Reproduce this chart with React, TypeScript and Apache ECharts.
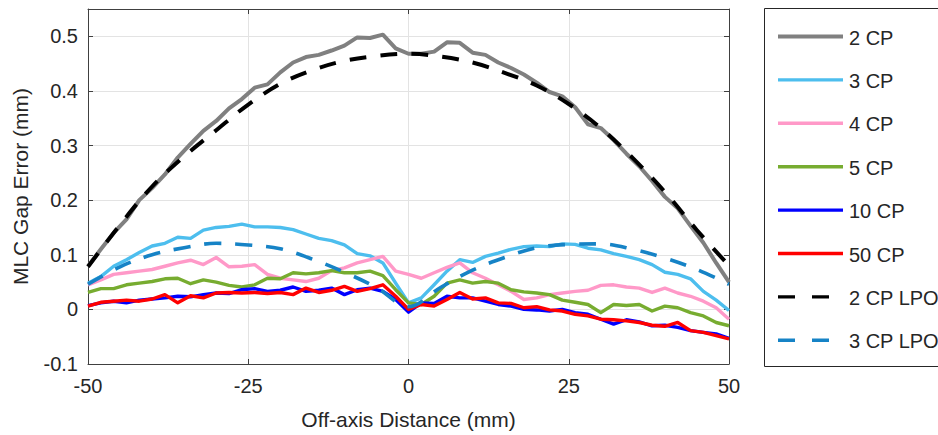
import React, { useEffect, useRef } from "react";
import * as echarts from "echarts";

// Off-axis distance (mm), sampled every 2 mm
const xs = [
  -50, -48, -46, -44, -42, -40, -38, -36, -34, -32, -30, -28, -26, -24, -22, -20, -18,
  -16, -14, -12, -10, -8, -6, -4, -2, 0, 2, 4, 6, 8, 10, 12, 14, 16, 18, 20, 22, 24,
  26, 28, 30, 32, 34, 36, 38, 40, 42, 44, 46, 48, 50,
];

const cp2 = [
  0.079, 0.11, 0.14, 0.165, 0.2, 0.222, 0.247, 0.278, 0.303, 0.327, 0.345, 0.368, 0.385,
  0.406, 0.412, 0.434, 0.452, 0.462, 0.466, 0.474, 0.483, 0.498, 0.497, 0.503, 0.478,
  0.468, 0.468, 0.472, 0.489, 0.488, 0.47, 0.466, 0.452, 0.442, 0.43, 0.415, 0.398, 0.39,
  0.37, 0.339, 0.332, 0.31, 0.285, 0.262, 0.235, 0.206, 0.185, 0.153, 0.122, 0.085, 0.05,
];

const cp3 = [
  0.048, 0.06, 0.079, 0.091, 0.104, 0.116, 0.121, 0.132, 0.13, 0.145, 0.15, 0.152, 0.156,
  0.151, 0.151, 0.15, 0.146, 0.138, 0.13, 0.126, 0.118, 0.102, 0.098, 0.085, 0.048,
  0.012, 0.021, 0.045, 0.07, 0.091, 0.086, 0.097, 0.103, 0.11, 0.115, 0.116, 0.115, 0.12,
  0.119, 0.112, 0.109, 0.102, 0.097, 0.091, 0.082, 0.068, 0.064, 0.056, 0.033, 0.017, -0.002,
];

const cp4 = [
  0.045, 0.054, 0.064, 0.067, 0.07, 0.073, 0.079, 0.085, 0.09, 0.082, 0.095, 0.078, 0.079,
  0.082, 0.064, 0.057, 0.054, 0.051, 0.057, 0.071, 0.076, 0.085, 0.091, 0.097, 0.07,
  0.064, 0.057, 0.067, 0.077, 0.085, 0.067, 0.057, 0.045, 0.033, 0.018, 0.021, 0.027, 0.03,
  0.033, 0.035, 0.044, 0.045, 0.041, 0.039, 0.031, 0.039, 0.03, 0.024, 0.015, 0.003, -0.018,
];

const cp5 = [
  0.031, 0.038, 0.038, 0.045, 0.048, 0.051, 0.056, 0.057, 0.047, 0.054, 0.05, 0.044, 0.041,
  0.045, 0.057, 0.056, 0.067, 0.065, 0.067, 0.071, 0.067, 0.067, 0.07, 0.062, 0.036,
  0.012, 0.009, 0.024, 0.048, 0.054, 0.048, 0.051, 0.048, 0.036, 0.032, 0.03, 0.027, 0.017,
  0.013, 0.009, -0.006, 0.009, 0.007, 0.009, -0.003, 0.006, 0.003, -0.006, -0.012, -0.024, -0.03,
];

const cp10 = [
  0.007, 0.012, 0.015, 0.012, 0.017, 0.019, 0.021, 0.024, 0.023, 0.027, 0.03, 0.029, 0.036,
  0.038, 0.033, 0.035, 0.041, 0.033, 0.035, 0.039, 0.027, 0.036, 0.039, 0.033, 0.018,
  -0.005, 0.012, 0.011, 0.024, 0.021, 0.021, 0.015, 0.009, 0.006, 0.0, -0.001, -0.003, 0.0,
  -0.006, -0.009, -0.018, -0.027, -0.019, -0.023, -0.03, -0.029, -0.033, -0.039, -0.042, -0.045, -0.053,
];

const cp50 = [
  0.006, 0.013, 0.015, 0.017, 0.015, 0.019, 0.027, 0.012, 0.025, 0.021, 0.03, 0.031, 0.03,
  0.031, 0.029, 0.031, 0.027, 0.039, 0.031, 0.035, 0.042, 0.033, 0.038, 0.045, 0.024,
  0.0, 0.009, 0.006, 0.018, 0.031, 0.019, 0.021, 0.012, 0.011, 0.003, 0.005, -0.001, -0.003,
  -0.009, -0.012, -0.018, -0.019, -0.021, -0.024, -0.029, -0.031, -0.024, -0.039, -0.042, -0.048, -0.054,
];

// LPO fits, sampled every 5 mm
const xsLpo = [-50, -45, -40, -35, -30, -25, -20, -15, -10, -5, 0, 5, 10, 15, 20, 25, 30, 35, 40, 45, 50];
const cp2Lpo = [
  0.078, 0.155, 0.225, 0.28, 0.328, 0.375, 0.413, 0.438, 0.455, 0.464, 0.468, 0.463, 0.452,
  0.433, 0.41, 0.376, 0.332, 0.277, 0.215, 0.145, 0.08,
];
const cp3Lpo = [
  0.046, 0.078, 0.1, 0.113, 0.121, 0.118, 0.111, 0.092, 0.068, 0.04, 0.005, 0.04, 0.072,
  0.095, 0.113, 0.119, 0.12, 0.11, 0.094, 0.073, 0.046,
];

const legendLabels = ["2 CP", "3 CP", "4 CP", "5 CP", "10 CP", "50 CP", "2 CP LPO", "3 CP LPO"];
const colors = ["#808080", "#4DBEEE", "#FF99C8", "#77AC30", "#0000FF", "#FF0000", "#000000", "#1683C6"];
const widths = [4, 3.4, 3.4, 3.4, 3.4, 3.4, 4, 3.6];
const dashed = [false, false, false, false, false, false, true, true];

const xTicks = [-50, -25, 0, 25, 50];

const FONT = "'Liberation Sans', Arial, Helvetica, sans-serif";
const TXT = "#262626";

export default function App() {
  const ref = useRef<HTMLDivElement>(null);

  useEffect(() => {
    if (!ref.current) return;
    const chart = echarts.init(ref.current, undefined, { renderer: "svg" });

    const solidData = [cp2, cp3, cp4, cp5, cp10, cp50].map((ys) => xs.map((x, i) => [x, ys[i]]));
    const lpoData = [cp2Lpo, cp3Lpo].map((ys) => xsLpo.map((x, i) => [x, ys[i]]));
    const allData = [...solidData, ...lpoData];

    const series = allData.map((d, k) => ({
      name: legendLabels[k],
      type: "line",
      data: d,
      showSymbol: false,
      symbol: "none",
      smooth: dashed[k] ? 0.35 : false,
      clip: true,
      lineStyle: {
        color: colors[k],
        width: widths[k],
        type: dashed[k] ? [17, 14] : "solid",
        cap: "butt",
        join: "round",
      },
      z: 2,
    }));

    const rowY = legendLabels.map((_, i) => 36.5 + 43.4 * i);
    const legendGraphics: any[] = [
      {
        type: "rect",
        shape: { x: 764.5, y: 8.5, width: 220, height: 358 },
        style: { fill: "#ffffff", stroke: TXT, lineWidth: 1 },
        z: 10,
      },
    ];
    legendLabels.forEach((lab, i) => {
      legendGraphics.push({
        type: "line",
        shape: { x1: 778, y1: rowY[i], x2: 843, y2: rowY[i] },
        style: {
          stroke: colors[i],
          lineWidth: i === 0 ? 4 : 3.4,
          lineDash: dashed[i] ? [17, 17] : null,
          lineCap: "butt",
        },
        z: 11,
      });
      legendGraphics.push({
        type: "text",
        x: 849,
        y: rowY[i] + 1,
        style: {
          text: lab,
          fill: TXT,
          font: `20px ${FONT}`,
          fontSize: 20,
          fontFamily: FONT,
          verticalAlign: "middle",
          align: "left",
        },
        z: 11,
      });
    });

    const axisCommon = {
      axisLine: { show: true, onZero: false, lineStyle: { color: "#404040", width: 1 } },
      axisTick: { show: true, inside: true, length: 5, lineStyle: { color: "#404040" } },
    };

    chart.setOption({
      animation: false,
      backgroundColor: "#ffffff",
      textStyle: { fontFamily: FONT },
      grid: { left: 88, right: 209, top: 9, bottom: 68, containLabel: false },
      xAxis: [
        {
          type: "value",
          min: -50,
          max: 50,
          interval: 25,
          position: "bottom",
          ...axisCommon,
          splitLine: { show: true, lineStyle: { color: "#e3e3e3", width: 1 } },
          axisLabel: {
            fontSize: 20,
            color: TXT,
            fontFamily: FONT,
            margin: 12,
            formatter: (v: number) => (xTicks.includes(v) ? String(v) : ""),
          },
          name: "Off-axis Distance (mm)",
          nameLocation: "middle",
          nameGap: 45,
          nameTextStyle: { fontSize: 21, color: TXT, fontFamily: FONT },
        },
        {
          type: "value",
          min: -50,
          max: 50,
          interval: 25,
          position: "top",
          ...axisCommon,
          splitLine: { show: false },
          axisLabel: { show: false },
        },
      ],
      yAxis: [
        {
          type: "value",
          min: -0.1,
          max: 0.55,
          interval: 0.1,
          position: "left",
          ...axisCommon,
          splitLine: { show: true, lineStyle: { color: "#e3e3e3", width: 1 } },
          axisLabel: {
            fontSize: 20,
            color: TXT,
            fontFamily: FONT,
            margin: 10,
            showMaxLabel: false,
            formatter: (v: number) => {
              if (v > 0.52) return "";
              const r = Math.round(v * 10) / 10;
              return r === 0 ? "0" : String(r);
            },
          },
          name: "MLC Gap Error (mm)",
          nameLocation: "middle",
          nameGap: 57,
          nameTextStyle: { fontSize: 21, color: TXT, fontFamily: FONT },
        },
        {
          type: "value",
          min: -0.1,
          max: 0.55,
          interval: 0.1,
          position: "right",
          ...axisCommon,
          splitLine: { show: false },
          axisLabel: { show: false },
        },
      ],
      series,
      graphic: legendGraphics,
    });

    return () => chart.dispose();
  }, []);

  return (
    <div
      ref={ref}
      style={{ position: "fixed", left: 0, top: 0, width: 938, height: 435, background: "#fff" }}
    />
  );
}
